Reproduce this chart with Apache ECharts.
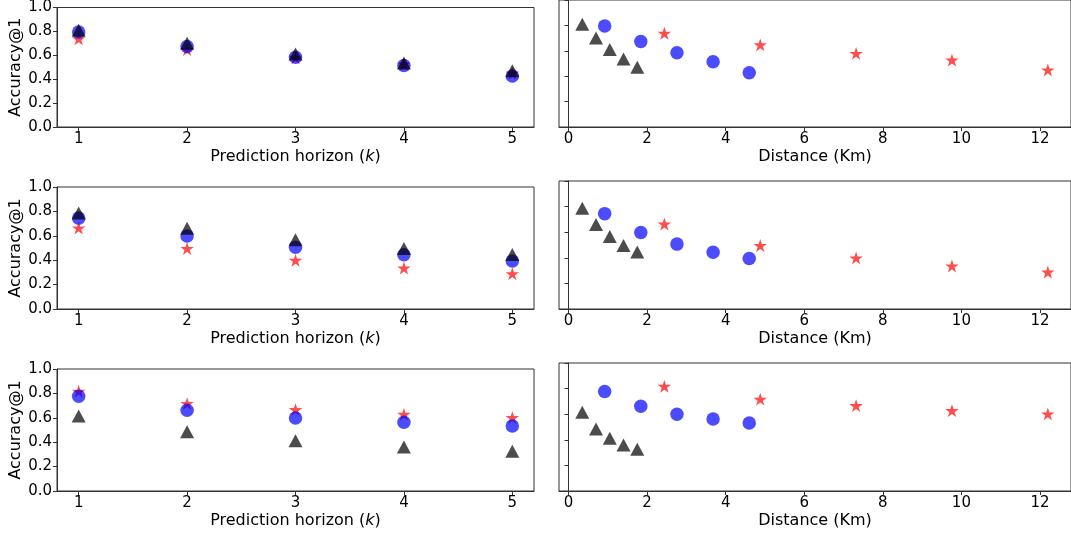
<!DOCTYPE html>
<html>
<head>
<meta charset="utf-8">
<script src="https://cdn.jsdelivr.net/npm/echarts@6/dist/echarts.min.js"></script>
<style>
  html, body { margin: 0; padding: 0; background: #fff; }
  #chart { width: 1071px; height: 535px; }
</style>
</head>
<body>
<div id="chart"></div>
<script>
// ---- data ----
const horizons = [1, 2, 3, 4, 5];
const distTriangle = [0.35, 0.70, 1.05, 1.40, 1.75];
const distCircle = [0.92, 1.84, 2.76, 3.68, 4.60];
const distStar = [2.44, 4.88, 7.32, 9.76, 12.2];

const row1Triangle = [0.81, 0.70, 0.61, 0.535, 0.47];
const row1Circle = [0.795, 0.673, 0.584, 0.514, 0.427];
const row1Star = [0.738, 0.647, 0.579, 0.527, 0.449];

const row2Triangle = [0.787, 0.661, 0.567, 0.496, 0.446];
const row2Circle = [0.745, 0.598, 0.507, 0.444, 0.394];
const row2Star = [0.664, 0.496, 0.399, 0.336, 0.289];

const row3Triangle = [0.615, 0.485, 0.412, 0.36, 0.326];
const row3Circle = [0.777, 0.662, 0.599, 0.563, 0.532];
const row3Star = [0.818, 0.717, 0.667, 0.628, 0.602];

const leftXTicks = [1, 2, 3, 4, 5];
const rightXTicks = [0, 2, 4, 6, 8, 10, 12];
const yTicks = [0, 0.2, 0.4, 0.6, 0.8, 1.0];

const rows = [
  { tri: row1Triangle, cir: row1Circle, star: row1Star },
  { tri: row2Triangle, cir: row2Circle, star: row2Star },
  { tri: row3Triangle, cir: row3Circle, star: row3Star }
];

// ---- styling ----
const FONT = 'DejaVu Sans';
const AX = '#333333';
const STAR_PATH = 'path://M95.1,0 L117.55,69.1 L190.2,69.1 L131.4,111.8 L153.9,180.9 L95.1,138.2 L36.3,180.9 L58.8,111.8 L0,69.1 L72.65,69.1 Z';
const C_TRI = 'rgba(0,0,0,0.7)';
const C_CIR = 'rgba(0,0,255,0.7)';
const C_STAR = 'rgba(255,0,0,0.7)';

const leftTops = [5, 187, 369];
const rightTops = [-1, 181, 363];

const grids = [], xAxes = [], yAxes = [], series = [];

function pairs(xs, ys) { return xs.map((x, i) => [x, ys[i]]); }

rows.forEach((r, i) => {
  grids.push({ left: 57, top: leftTops[i], width: 477, height: 122, show: true,
    borderColor: AX, borderWidth: 1, backgroundColor: 'transparent' });
  grids.push({ left: 559, top: rightTops[i], width: 514, height: 128, show: true,
    borderColor: AX, borderWidth: 1, backgroundColor: 'transparent' });

  const gl = 2 * i, gr = 2 * i + 1;
  xAxes.push({
    type: 'value', gridIndex: gl, min: 0.8, max: 5.2,
    name: 'Prediction horizon ({i|k})', nameLocation: 'middle', nameGap: 22,
    nameTextStyle: { fontFamily: FONT, fontSize: 16, color: '#000',
      rich: { i: { fontFamily: FONT, fontSize: 16, fontStyle: 'italic', color: '#000' } } },
    axisLine: { show: true, lineStyle: { color: AX, width: 1 } },
    axisTick: { show: true, length: 4, lineStyle: { color: AX }, customValues: leftXTicks },
    axisLabel: { fontFamily: FONT, fontSize: 15, color: '#000', margin: 5, customValues: leftXTicks },
    splitLine: { show: false }
  });
  xAxes.push({
    type: 'value', gridIndex: gr, min: -0.2425, max: 12.79,
    name: 'Distance (Km)', nameLocation: 'middle', nameGap: 22,
    nameTextStyle: { fontFamily: FONT, fontSize: 16, color: '#000' },
    axisLine: { show: true, lineStyle: { color: AX, width: 1 } },
    axisTick: { show: true, length: 4, lineStyle: { color: AX }, customValues: rightXTicks },
    axisLabel: { fontFamily: FONT, fontSize: 15, color: '#000', margin: 5, customValues: rightXTicks },
    splitLine: { show: false }
  });
  yAxes.push({
    type: 'value', gridIndex: gl, min: 0, max: 1,
    name: 'Accuracy@1', nameLocation: 'middle', nameGap: 33, nameRotate: 90,
    nameTextStyle: { fontFamily: FONT, fontSize: 16, color: '#000' },
    axisLine: { show: true, lineStyle: { color: AX, width: 1 } },
    axisTick: { show: true, length: 4, lineStyle: { color: AX }, customValues: yTicks },
    axisLabel: { fontFamily: FONT, fontSize: 15, color: '#000', margin: 5, customValues: yTicks,
      formatter: v => v.toFixed(1) },
    splitLine: { show: false }
  });
  yAxes.push({
    type: 'value', gridIndex: gr, min: 0, max: 1,
    axisLine: { show: true, lineStyle: { color: AX, width: 1 } },
    axisTick: { show: true, length: 4, lineStyle: { color: AX }, customValues: yTicks },
    axisLabel: { show: false },
    splitLine: { show: false }
  });

  const mk = (ax, xs, ys, symbol, size, color) => ({
    type: 'scatter', xAxisIndex: ax, yAxisIndex: ax, data: pairs(xs, ys),
    symbol: symbol, symbolSize: size, itemStyle: { color: color, opacity: 1 }, silent: true
  });
  series.push(mk(gl, horizons, r.star, STAR_PATH, [13.5, 12.8], C_STAR));
  series.push(mk(gl, horizons, r.cir, 'circle', 13.5, C_CIR));
  series.push(mk(gl, horizons, r.tri, 'triangle', [14, 13], C_TRI));
  series.push(mk(gr, distStar, r.star, STAR_PATH, [13.5, 12.8], C_STAR));
  series.push(mk(gr, distCircle, r.cir, 'circle', 13.5, C_CIR));
  series.push(mk(gr, distTriangle, r.tri, 'triangle', [14, 13], C_TRI));
});

const chart = echarts.init(document.getElementById('chart'), null, { renderer: 'canvas' });
chart.setOption({
  animation: false,
  backgroundColor: '#fff',
  grid: grids,
  xAxis: xAxes,
  yAxis: yAxes,
  series: series
});
</script>
</body>
</html>
